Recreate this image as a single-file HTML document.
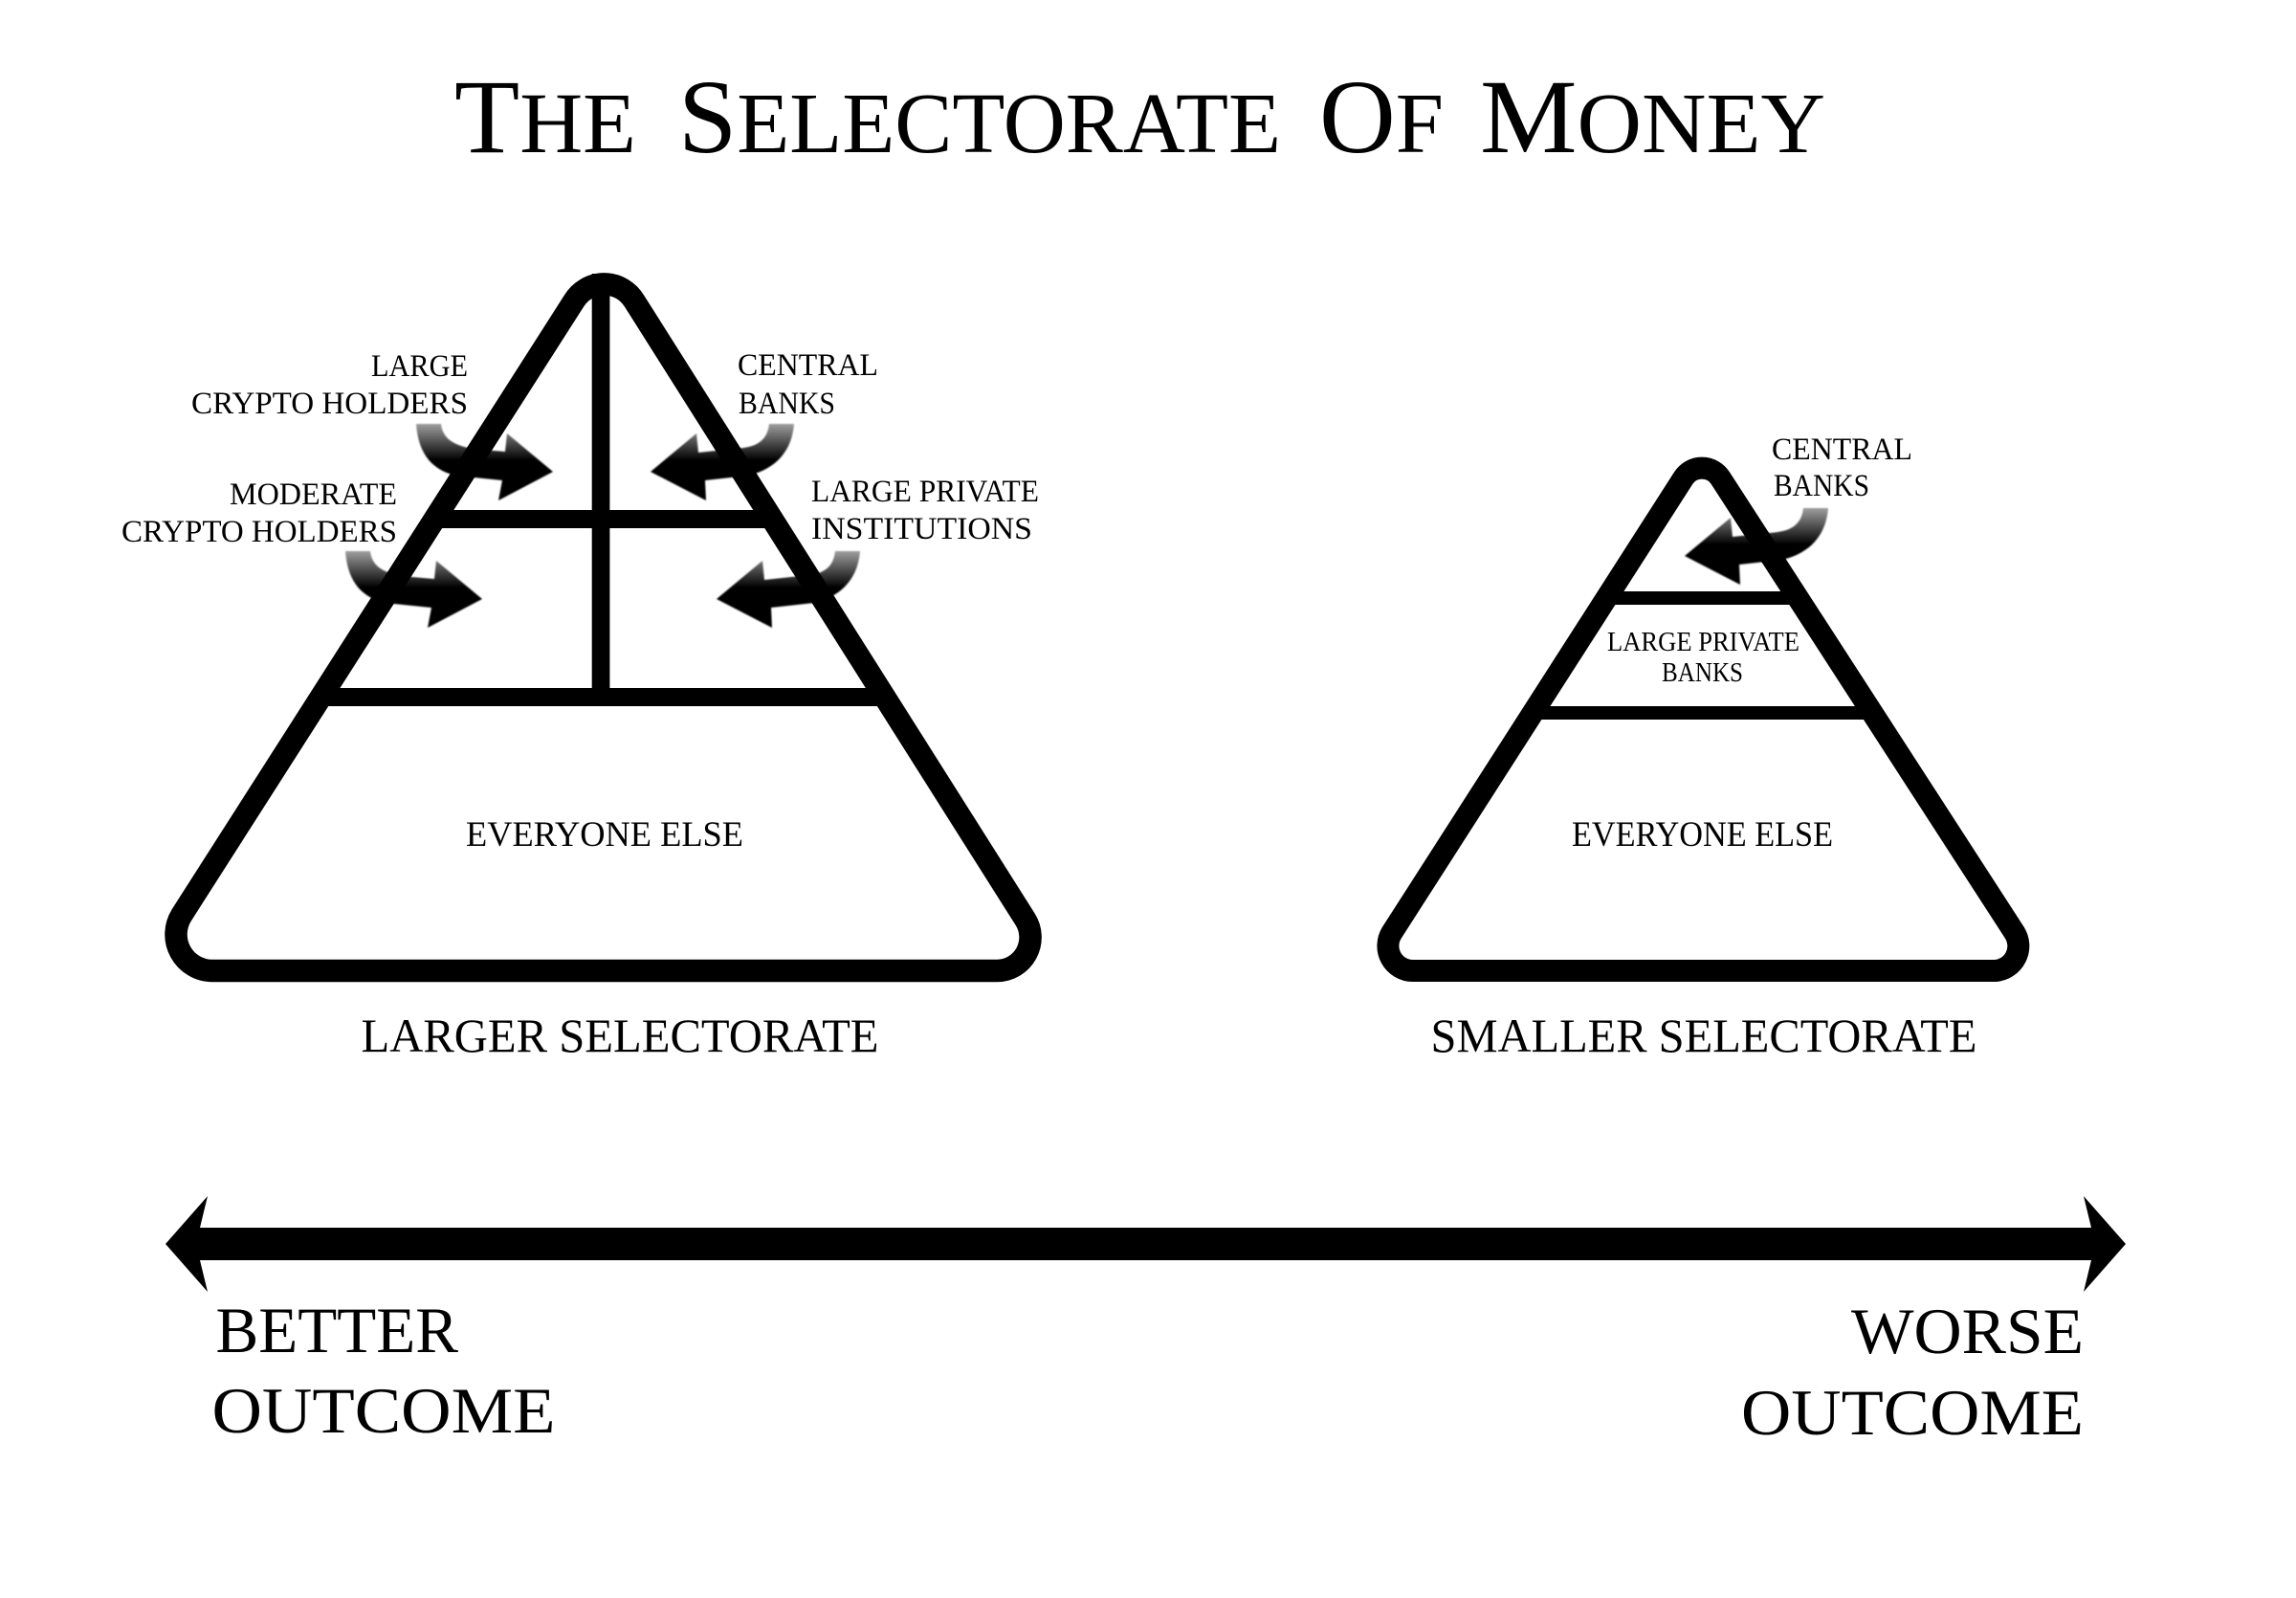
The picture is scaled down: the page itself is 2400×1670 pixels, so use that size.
<!DOCTYPE html>
<html>
<head>
<meta charset="utf-8">
<style>
html,body{margin:0;padding:0;background:#fff;width:2400px;height:1670px;overflow:hidden}
svg{display:block}
text{font-family:"Liberation Serif",serif;fill:#000;font-size:33px}
</style>
</head>
<body>
<svg width="2400" height="1670" viewBox="0 0 2400 1670" xmlns="http://www.w3.org/2000/svg">
<defs>
<linearGradient id="g" gradientUnits="userSpaceOnUse" x1="0" y1="443" x2="0" y2="481">
<stop offset="0" stop-color="#000" stop-opacity=".38"/>
<stop offset="1" stop-color="#000"/>
</linearGradient>
<filter id="b" x="-10%" y="-10%" width="120%" height="120%"><feGaussianBlur stdDeviation="0.9"/></filter>
</defs>
<rect width="2400" height="1670" fill="#fff"/>

<!-- curved arrows -->
<g filter="url(#b)">
<g transform="translate(-2,0)"><path fill="url(#g)" d="M437,443 C439,470 450,490 478,497 L527,502 L523,523 L580,493 L532,453 L530,472 L495,469 C478,465 465,460 463,443 Z"/></g>
<g transform="translate(-3,0)"><path fill="url(#g)" d="M807,443 C805,460 795,468 770,469 L733,473 L731,453 L683,493 L741,523 L740,502 L785,497 C815,490 831,470 833,443 Z"/></g>
<g transform="translate(-76,133)"><path fill="url(#g)" d="M437,443 C439,470 450,490 478,497 L527,502 L523,523 L580,493 L532,453 L530,472 L495,469 C478,465 465,460 463,443 Z"/></g>
<g transform="translate(66,133)"><path fill="url(#g)" d="M807,443 C805,460 795,468 770,469 L733,473 L731,453 L683,493 L741,523 L740,502 L785,497 C815,490 831,470 833,443 Z"/></g>
<g transform="translate(1078,88)"><path fill="url(#g)" d="M807,443 C805,460 795,468 770,469 L733,473 L731,453 L683,493 L741,523 L740,502 L785,497 C815,490 831,470 833,443 Z"/></g>
</g>

<!-- left pyramid -->
<path d="M190,956 L600,314.500 A37,37 0 0 1 663,314.500 L1071.400,960.400 A35,35 0 0 1 1042,1014.500 L222,1014.500 A38,38 0 0 1 190,956 Z" fill="none" stroke="#000" stroke-width="23.500"/>
<rect x="618.700" y="286" width="18.700" height="452" fill="#000"/>
<rect x="455" y="533" width="352" height="19" fill="#000"/>
<rect x="336" y="719" width="588" height="19" fill="#000"/>

<!-- right pyramid -->
<path d="M1455,974.500 L1759.700,499.600 A23,23 0 0 1 1798.300,499.600 L2106,975 A26,26 0 0 1 2086,1014.500 L1477,1014.500 A26,26 0 0 1 1455,974.500 Z" fill="none" stroke="#000" stroke-width="23"/>
<rect x="1679" y="618" width="201" height="14" fill="#000"/>
<rect x="1602" y="738" width="355" height="14" fill="#000"/>

<!-- long arrow -->
<path d="M173,1300 L217,1250 L209,1283 L2186,1283 L2178,1250 L2222,1300 L2178,1350 L2186,1317 L209,1317 L217,1350 Z" fill="#000"/>

<!-- title -->
<text x="475" y="159" textLength="190" lengthAdjust="spacingAndGlyphs" style="font-size:110px">T<tspan style="font-size:90px">HE</tspan></text>
<text x="709" y="159" textLength="630" lengthAdjust="spacingAndGlyphs" style="font-size:110px">S<tspan style="font-size:90px">ELECTORATE</tspan></text>
<text x="1379" y="159" textLength="130" lengthAdjust="spacingAndGlyphs" style="font-size:110px">O<tspan style="font-size:90px">F</tspan></text>
<text x="1547" y="159" textLength="361" lengthAdjust="spacingAndGlyphs" style="font-size:110px">M<tspan style="font-size:90px">ONEY</tspan></text>

<!-- left labels -->
<text x="388" y="393" textLength="101" lengthAdjust="spacingAndGlyphs">LARGE</text>
<text x="200" y="432" textLength="289" lengthAdjust="spacingAndGlyphs">CRYPTO HOLDERS</text>
<text x="771" y="392" textLength="147" lengthAdjust="spacingAndGlyphs">CENTRAL</text>
<text x="772" y="432" textLength="101" lengthAdjust="spacingAndGlyphs">BANKS</text>
<text x="240" y="527" textLength="175" lengthAdjust="spacingAndGlyphs">MODERATE</text>
<text x="127" y="566" textLength="288" lengthAdjust="spacingAndGlyphs">CRYPTO HOLDERS</text>
<text x="848" y="524" textLength="238" lengthAdjust="spacingAndGlyphs">LARGE PRIVATE</text>
<text x="848" y="563" textLength="231" lengthAdjust="spacingAndGlyphs">INSTITUTIONS</text>
<text x="487" y="884" textLength="290" lengthAdjust="spacingAndGlyphs" style="font-size:37px">EVERYONE ELSE</text>
<text x="377.500" y="1099" textLength="541" lengthAdjust="spacingAndGlyphs" style="font-size:50px">LARGER SELECTORATE</text>

<!-- right labels -->
<text x="1852" y="480" textLength="147" lengthAdjust="spacingAndGlyphs">CENTRAL</text>
<text x="1854" y="518" textLength="100" lengthAdjust="spacingAndGlyphs">BANKS</text>
<text x="1680" y="680" textLength="201" lengthAdjust="spacingAndGlyphs" style="font-size:28px">LARGE PRIVATE</text>
<text x="1737" y="712" textLength="85" lengthAdjust="spacingAndGlyphs" style="font-size:28px">BANKS</text>
<text x="1643" y="884" textLength="273" lengthAdjust="spacingAndGlyphs" style="font-size:37px">EVERYONE ELSE</text>
<text x="1495.500" y="1099" textLength="571" lengthAdjust="spacingAndGlyphs" style="font-size:50px">SMALLER SELECTORATE</text>

<!-- bottom labels -->
<text x="225.500" y="1413" textLength="253.500" lengthAdjust="spacingAndGlyphs" style="font-size:68px">BETTER</text>
<text x="221.500" y="1497" textLength="359" lengthAdjust="spacingAndGlyphs" style="font-size:68px">OUTCOME</text>
<text x="1935" y="1414" textLength="243" lengthAdjust="spacingAndGlyphs" style="font-size:68px">WORSE</text>
<text x="1820" y="1499" textLength="358" lengthAdjust="spacingAndGlyphs" style="font-size:68px">OUTCOME</text>
</svg>
</body>
</html>
